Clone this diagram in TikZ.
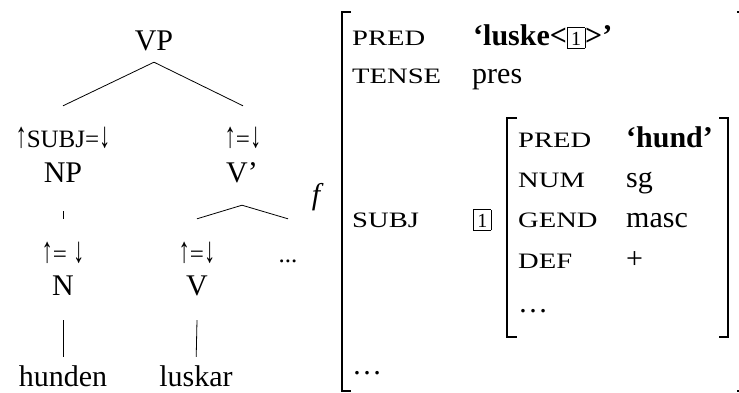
\documentclass[tikz,border=0pt]{standalone}
\usepackage{fontspec}
\setmainfont{Liberation Serif}
\newfontfamily\featfont[FakeStretch=1.3]{Liberation Serif}
\newcommand{\bigsz}{\fontsize{30}{36}\selectfont}
\newcommand{\annsz}{\fontsize{25}{30}\selectfont}
\newcommand{\featsz}{\featfont\fontsize{22}{26}\selectfont}
\newcommand{\upar}{\scalebox{0.9}[1.45]{↑}}
\newcommand{\dnar}{\scalebox{0.9}[1.45]{↓}}
\newcommand{\tagnum}[1]{{\mdseries\fontsize{20}{24}\selectfont\setlength{\fboxsep}{2pt}\setlength{\fboxrule}{0.6pt}\fbox{\makebox[13pt]{\rule[-1pt]{0pt}{16pt}#1}}}}
\tikzset{
  cat/.style={anchor=base, font=\bigsz, text height=20pt, text depth=0pt, inner xsep=0pt, inner ysep=#1},
  ann/.style={anchor=base, font=\annsz, text height=20pt, text depth=0pt, inner xsep=0pt, inner ysep=#1},
  branch/.style={line width=0.8pt},
  feat/.style={anchor=base west, font=\featsz, inner sep=0pt},
  val/.style={anchor=base west, font=\bigsz, inner sep=0pt},
  brack/.style={line width=2.6pt, line join=miter}
}
\begin{document}
\begin{tikzpicture}[x=1pt,y=-1pt]
\useasboundingbox (0,0) rectangle (739,392);
% tree
\node[cat=12pt] (VP) at (154,50) {VP};
\node[ann=21pt] (subjann) at (63,147) {\upar SUBJ=\dnar};
\node[ann=21pt] (vbarann) at (243,147) {\upar=\dnar};
\node[cat=29pt] (NP) at (63,182) {NP};
\node[cat=23pt] (Vbar) at (242,182) {V’};
\node[ann=23pt] (nann) at (63,262) {\upar= \dnar};
\node[ann=23pt] (vann) at (197,262) {\upar=\dnar};
\node[ann=23pt] (rest) at (288,262) {...};
\node[cat=25pt] (N) at (63,295) {N};
\node[cat=25pt] (V) at (197,295) {V};
\node[cat=0pt] (hunden) at (63,386) {hunden};
\node[cat=0pt] (luskar) at (196,386) {luskar};
\path[draw,branch] (VP.south) -- (subjann.north);
\path[draw,branch] (VP.south) -- (vbarann.north);
\path[draw,branch] (NP.south) -- (nann.north);
\path[draw,branch] (Vbar.south) -- (vann.north);
\path[draw,branch] (Vbar.south) -- (rest.north);
\path[draw,branch,shorten >=9pt] (N.south) -- (hunden.north);
\path[draw,branch,shorten >=9pt] (V.south) -- (luskar.north);
\node[font=\bigsz\itshape, inner sep=0pt] (f) at (316,197) {f};
% f-structure
\draw[brack] (351,12) -| (342,391) -- (351,391);
\draw[brack] (737,12) -| (746,391) -- (737,391);
\node[feat] (pred) at (352,45) {PRED};
\node[val] (predval) at (473,45) {\textbf{‘luske<\tagnum{1}>’}};
\node[feat] (tense) at (352,83) {TENSE};
\node[val] (tenseval) at (472,83) {pres};
\node[feat] (subj) at (352,227) {SUBJ};
\node[anchor=base west, inner sep=0pt] (tag) at (473,227) {\tagnum{1}};
\node[val] (more) at (352,374) {…};
\draw[brack] (517,118) -| (507,337) -- (517,337);
\draw[brack] (719,118) -| (728,337) -- (719,337);
\node[feat] (ipred) at (518,147) {PRED};
\node[val] (ipredval) at (626,147) {\textbf{‘hund’}};
\node[feat] (num) at (518,187) {NUM};
\node[val] (numval) at (626,187) {sg};
\node[feat] (gend) at (518,227) {GEND};
\node[val] (gendval) at (626,227) {masc};
\node[feat] (def) at (518,268) {DEF};
\node[val] (defval) at (626,268) {+};
\node[val] (imore) at (518,312) {…};
\end{tikzpicture}
\end{document}
